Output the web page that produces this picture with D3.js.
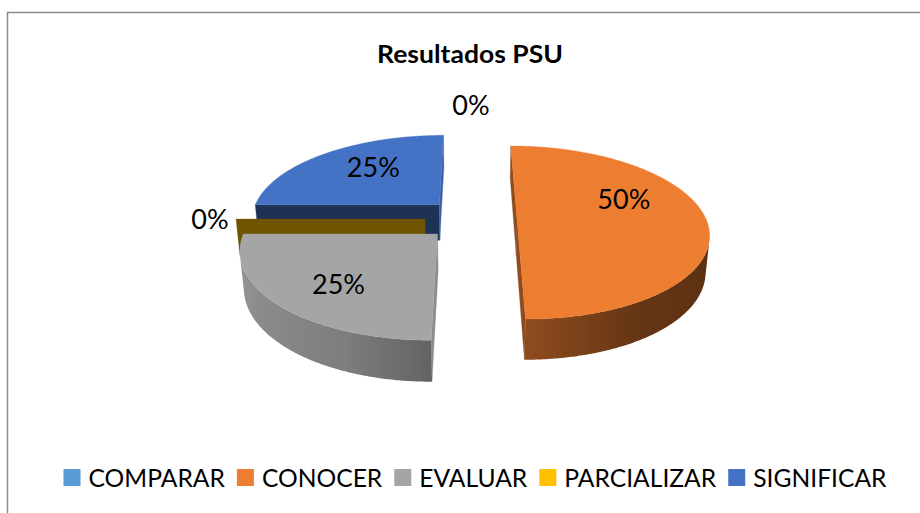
<!DOCTYPE html>
<html><head><meta charset="utf-8">
<script src="https://cdn.jsdelivr.net/npm/d3@7"></script>
<style>html,body{margin:0;padding:0;background:#fff;overflow:hidden}</style>
</head><body>
<svg id="chart" width="920" height="513"></svg>
<script>
// ---- data ----
const title = "Resultados PSU";
const categories = ["COMPARAR", "CONOCER", "EVALUAR", "PARCIALIZAR", "SIGNIFICAR"];
const values = [0, 50, 25, 0, 25];           // percent
const colors = ["#5B9BD5", "#ED7D31", "#A5A5A5", "#FFC000", "#4472C4"];
const labels = values.map(v => v + "%");

// ---- layout ----
const W = 920, H = 513;
const cx = 471, cy = 219, R = 189, DEPTH = 41, EXPLODE = 46;
const theta = 26.55 * Math.PI / 180;
const sinT = Math.sin(theta), cosT = Math.cos(theta), F = 1082;
const FONT = "Lato, 'Open Sans', sans-serif";

function project(x, y, z) {
  const u = y * sinT + z * cosT, d = y * cosT - z * sinT, s = F / (F + d);
  return [cx + x * s, cy - u * s, d];
}
const cam = [0, -F * cosT, F * sinT];

const svg = d3.select("#chart");
const defs = svg.append("defs");
svg.append("rect").attr("x", 7.5).attr("y", 12.5).attr("width", 960).attr("height", 560)
  .attr("fill", "#fff").attr("stroke", "#8c8c8c").attr("stroke-width", 1.5);

svg.append("text").attr("x", 377).attr("y", 63)
  .attr("font-family", FONT).attr("font-weight", "bold").attr("font-size", 24)
  .attr("textLength", 186).attr("lengthAdjust", "spacingAndGlyphs")
  .attr("fill", "#000").text(title);

const color = d3.scaleOrdinal().domain(categories).range(colors);
const pie = d3.pie().sort(null).startAngle(0).endAngle(2 * Math.PI).value(d => d);
const arcs = pie(values);

const wallShade = d3.scaleLinear().domain([0, 90, 150, 180, 202, 260, 360])
  .range([0.6, 0.36, 0.43, 0.6, 0.76, 0.92, 0.6]).clamp(true);
const cutShade = d3.scaleLinear().domain([0, 90, 180, 270, 360])
  .range([0.7, 0.85, 0.44, 0.6, 0.7]);
function shade(c, k) { const r = d3.rgb(c); return d3.rgb(r.r * k, r.g * k, r.b * k).formatHex(); }
const deg = a => ((a * 180 / Math.PI) % 360 + 360) % 360;

const slices = arcs.map((a, i) => {
  const mid = (a.startAngle + a.endAngle) / 2;
  const ox = EXPLODE * Math.sin(mid), oy = EXPLODE * Math.cos(mid);
  return { i, a0: a.startAngle, a1: a.endAngle, mid, ox, oy, depth: project(ox, oy, 0)[2] };
});

function P(s, a, r, z) { return [s.ox + r * Math.sin(a), s.oy + r * Math.cos(a), z]; }
function facing(n, p) {
  return n[0] * (cam[0] - p[0]) + n[1] * (cam[1] - p[1]) + n[2] * (cam[2] - p[2]) > 1e-6;
}
const line = d3.line();
const pr = p => project(p[0], p[1], p[2]).slice(0, 2);
function poly(pts) { return line(pts.map(pr)) + "Z"; }

const order = slices.slice().sort((a, b) => b.depth - a.depth);
const gPie = svg.append("g");
order.forEach(s => {
  const base = color(categories[s.i]);
  const g = gPie.append("g");
  const c0 = [s.ox, s.oy, 0], c0b = [s.ox, s.oy, -DEPTH];
  // radial cut faces
  [[s.a0, -1], [s.a1, 1]].forEach(([a, sg]) => {
    const n = [sg * Math.cos(a), -sg * Math.sin(a), 0];
    const e = P(s, a, R, 0), eb = P(s, a, R, -DEPTH);
    if (facing(n, [(c0[0] + e[0]) / 2, (c0[1] + e[1]) / 2, 0])) {
      const f = shade(base, cutShade(deg(Math.atan2(n[0], n[1]))));
      g.append("path").attr("d", poly([c0, e, eb, c0b])).attr("fill", f)
        .attr("stroke", f).attr("stroke-width", 0.3);
    }
  });
  // outer wall: contiguous visible runs, one path each with a horizontal gradient
  const span = s.a1 - s.a0;
  if (span > 1e-9) {
    const n = Math.max(2, Math.ceil(span / (Math.PI / 360)));
    const runs = []; let cur = null;
    for (let k = 0; k < n; k++) {
      const a = s.a0 + span * k / n, b = s.a0 + span * (k + 1) / n, m = (a + b) / 2;
      if (facing([Math.sin(m), Math.cos(m), 0], P(s, m, R, -DEPTH / 2))) {
        if (!cur) { cur = [a]; runs.push(cur); }
        cur.push(b);
      } else cur = null;
    }
    runs.forEach((run, ri) => {
      const top = run.map(a => P(s, a, R, 0));
      const bot = run.map(a => P(s, a, R, -DEPTH)).reverse();
      const xs = run.map(a => pr(P(s, a, R, 0))[0]);
      const x0 = d3.min(xs), x1 = d3.max(xs);
      const id = "wall" + s.i + "_" + ri;
      const grad = defs.append("linearGradient").attr("id", id)
        .attr("gradientUnits", "userSpaceOnUse").attr("x1", x0).attr("x2", x1).attr("y1", 0).attr("y2", 0);
      const stops = run.map((a, k) => ({ o: (xs[k] - x0) / Math.max(1e-6, x1 - x0), c: shade(base, wallShade(deg(a))) }))
        .sort((p, q) => p.o - q.o);
      stops.forEach(st => grad.append("stop").attr("offset", st.o).attr("stop-color", st.c));
      g.append("path").attr("d", poly(top.concat(bot))).attr("fill", "url(#" + id + ")");
    });
    // top face
    const pts = [c0];
    for (let k = 0; k <= n; k++) pts.push(P(s, s.a0 + span * k / n, R, 0));
    g.append("path").attr("d", poly(pts)).attr("fill", base)
      .attr("stroke", base).attr("stroke-width", 0.3);
  }
});

// ---- data labels ----
const labelNudge = { 1: [-16, -20], 2: [0, 6], 4: [11, -3] };
const LFS = 27;
const gLab = svg.append("g");
slices.forEach(s => {
  let x, y;
  if (values[s.i] >= 5) {
    const p = project(...P(s, s.mid, 0.65 * R, 0));
    const nd = labelNudge[s.i] || [0, 0];
    x = p[0] + nd[0]; y = p[1] + nd[1];
  } else {
    const p = project(...P(s, s.mid, R, 0));
    x = p[0] + 26 * Math.sin(s.mid); y = p[1] - 26 * Math.cos(s.mid);
  }
  gLab.append("text").attr("x", x).attr("y", y + 0.36 * LFS).attr("text-anchor", "middle")
    .attr("font-family", FONT).attr("font-size", LFS).attr("fill", "#000").text(labels[s.i]);
});

// ---- legend ----
const LEG_FS = 25, SQ = 17, legY = 486, legTotal = 650, legCenter = 475;
const gLeg = svg.append("g");
const tmp = categories.map(c => {
  const t = gLeg.append("text").attr("font-family", FONT).attr("font-size", LEG_FS).text(c);
  const w = t.node().getComputedTextLength(); t.remove(); return w;
});
const kx = legTotal / d3.sum(tmp);
const widths = tmp.map(w => w * kx);
const itemW = widths.map(w => SQ + 8 + w);
const fullW = d3.sum(itemW) + 12 * (categories.length - 1);
let lx = legCenter - fullW / 2;
categories.forEach((c, i) => {
  gLeg.append("rect").attr("x", lx).attr("y", legY - SQ).attr("width", SQ).attr("height", SQ)
    .attr("fill", color(c));
  gLeg.append("text").attr("x", lx + SQ + 8).attr("y", legY + 1)
    .attr("font-family", FONT).attr("font-size", LEG_FS).attr("fill", "#000")
    .attr("textLength", widths[i]).attr("lengthAdjust", "spacingAndGlyphs").text(c);
  lx += itemW[i] + 12;
});
</script>
</body></html>
